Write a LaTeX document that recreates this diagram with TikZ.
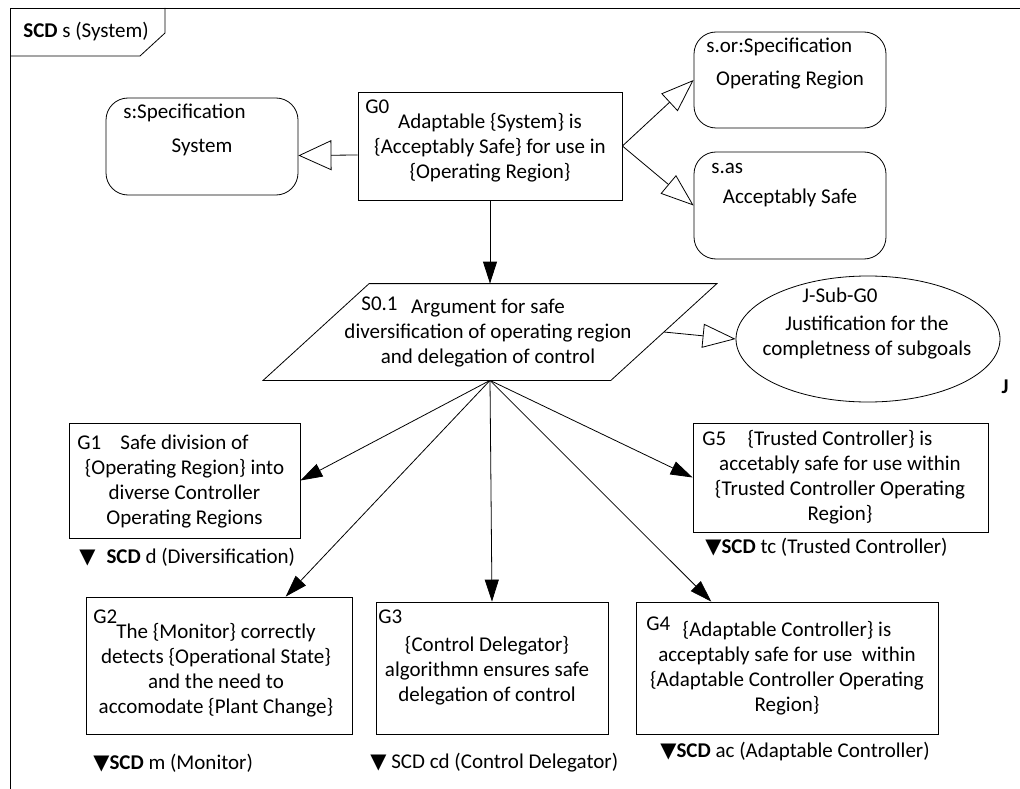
\documentclass[tikz,border=0pt]{standalone}
\usepackage{fontspec}
\setmainfont{Carlito}
\newfontfamily\symfont{DejaVu Sans}
\usetikzlibrary{arrows.meta,shapes.geometric,calc}
\newcommand{\downmark}{{\symfont\fontsize{21}{21}\selectfont ▼}}

\begin{document}
\begin{tikzpicture}[x=1pt,y=-1pt,
  line width=0.8pt,
  txt/.style={font=\fontsize{21}{25}\selectfont, align=center, inner sep=0pt},
  lbl/.style={font=\fontsize{21}{25}\selectfont, inner sep=0pt, anchor=west},
  goalbox/.style={draw, rectangle, inner sep=0pt},
  ctxbox/.style={draw, rectangle, rounded corners=22pt, inner sep=0pt},
  solidtip/.style={-{Triangle[length=22pt,width=14pt]}},
  opentip/.style={-{Triangle[open,length=33pt,width=#1]}},
  opentip/.default=24pt,
]
\useasboundingbox (0,0) rectangle (1020,789);

% frame and its tab
\draw (10,789) -- (10,8) -- (1020,8);
\draw (10,56) -- (140,56) -- (165,33) -- (165,8);
\node[lbl] (tabtext) at (23,32) {\textbf{SCD} s (System)};

% boxes
\node[ctxbox, minimum width=192pt, minimum height=97pt] (sys) at (202,146.5) {};
\node[goalbox, minimum width=264pt, minimum height=108pt] (g0) at (490,146) {};
\node[ctxbox, minimum width=192pt, minimum height=96pt] (sor) at (790,80) {};
\node[ctxbox, minimum width=192pt, minimum height=107pt] (sas) at (790,205.5) {};
\node[inner sep=0pt, minimum width=347pt, minimum height=96pt] (s01) at (490,332) {};
\draw ($(s01.north west)+(53,0)$) -- ($(s01.north east)+(53,0)$)
      -- ($(s01.south east)+(-53,0)$) -- ($(s01.south west)+(-53,0)$) -- cycle;
\node[draw, ellipse, inner sep=0pt, minimum width=264pt, minimum height=126pt] (jsub) at (868,339) {};
\node[goalbox, minimum width=231pt, minimum height=115pt] (g1) at (184.5,480.5) {};
\node[goalbox, minimum width=295pt, minimum height=109pt] (g5) at (840.5,477.5) {};
\node[goalbox, minimum width=266pt, minimum height=137pt] (g2) at (219,665.5) {};
\node[goalbox, minimum width=232pt, minimum height=132pt] (g3) at (492,668) {};
\node[goalbox, minimum width=302pt, minimum height=132pt] (g4) at (787,668) {};

% texts
\node[lbl] (sysid) at (123,113) {s:Specification};
\node[txt] (systxt) at (202,147) {System};
\node[lbl] (sorid) at (706,47) {s.or:Specification};
\node[txt] (sortxt) at (790,80) {Operating Region};
\node[lbl] (sasid) at (711,168) {s.as};
\node[txt] (sastxt) at (790,198) {Acceptably Safe};
\node[lbl] (g0id) at (365,107) {G0};
\node[txt] (g0txt) at (490,148) {Adaptable \{System\} is\\\{Acceptably Safe\} for use in\\\{Operating Region\}};
\node[lbl] (s01id) at (361,304) {S0.1};
\node[txt] (s01txt) at (488,333) {Argument for safe\\diversification of operating region\\and delegation of control};
\node[txt] (jid) at (840,295) {J-Sub-G0};
\node[txt] (jtxt) at (867,338) {Justification for the\\completness of subgoals};
\node[txt, font=\fontsize{21}{25}\selectfont\bfseries] (jmark) at (1005,387) {J};

\node[lbl] (g1id) at (77,443) {G1};
\node[txt] (g1txt) at (184.5,482) {Safe division of\\\{Operating Region\} into\\diverse Controller\\Operating Regions};
\node[lbl] (g1ref) at (79,557) {\downmark\hspace{11pt}\textbf{SCD} d (Diversification)};

\node[lbl] (g5id) at (702,439) {G5};
\node[txt] (g5txt) at (840,477.5) {\{Trusted Controller\} is\\accetably safe for use within\\\{Trusted Controller Operating\\Region\}};
\node[lbl] (g5ref) at (705,547) {\downmark\textbf{SCD} tc (Trusted Controller)};

\node[lbl] (g2id) at (93,617) {G2};
\node[txt] (g2txt) at (216,670) {The \{Monitor\} correctly\\detects \{Operational State\}\\and the need to\\accomodate \{Plant Change\}};
\node[lbl] (g2ref) at (93,763) {\downmark\textbf{SCD} m (Monitor)};

\node[lbl] (g3id) at (378,617) {G3};
\node[txt] (g3txt) at (487,671) {\{Control Delegator\}\\algorithmn ensures safe\\delegation of control};
\node[lbl] (g3ref) at (370,763) {\downmark\ SCD cd (Control Delegator)};

\node[lbl] (g4id) at (646,624) {G4};
\node[txt] (g4txt) at (787,668.5) {\{Adaptable Controller\} is\\acceptably safe for use\ \ within\\\{Adaptable Controller Operating\\Region\}};
\node[lbl] (g4ref) at (660,752) {\downmark\textbf{SCD} ac (Adaptable Controller)};

% context links
\draw[opentip=30pt] ($(g0.west)+(0,9)$) -- ($(sys.east)+(0,9)$);
\draw[opentip] (g0.east) -- (sor.west);
\draw[opentip] (g0.east) -- (sas.west);
\draw[opentip] (s01.east) -- (jsub.west);

% support links
\draw[solidtip] (g0.south) -- (s01.north);
\draw[solidtip] (s01.south) -- (g1.east);
\draw[solidtip] (s01.south) -- ($(g2.north west)!0.75!(g2.north east)$);
\draw[solidtip] (s01.south) -- (g3.north);
\draw[solidtip] (s01.south) -- ($(g4.north west)!0.25!(g4.north east)$);
\draw[solidtip] (s01.south) -- (g5.west);
\end{tikzpicture}
\end{document}
